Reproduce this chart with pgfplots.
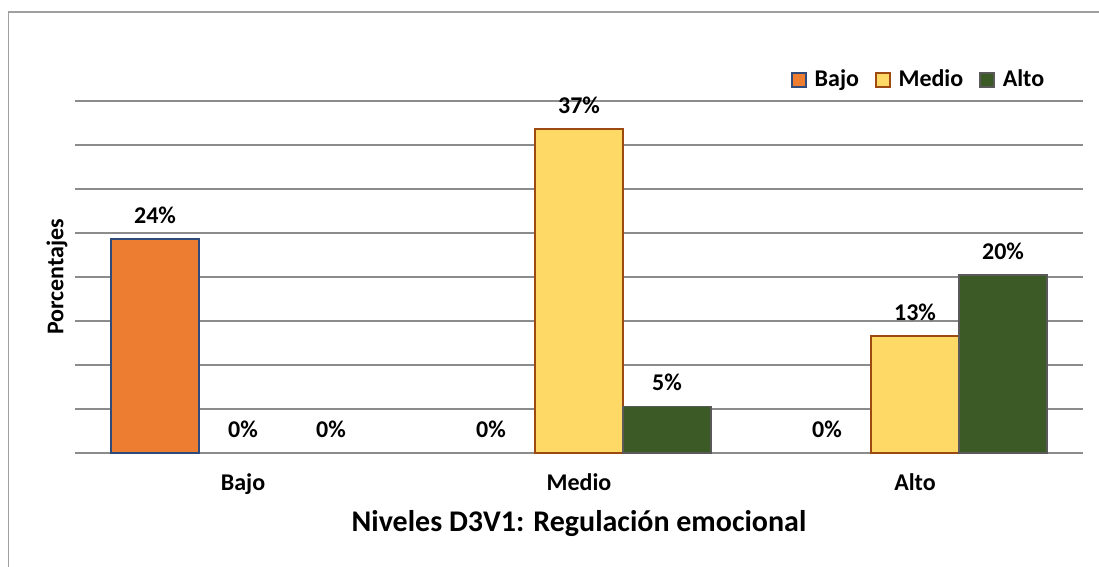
\documentclass[border=0pt]{standalone}
\usepackage{fontspec}
\setmainfont{Carlito}
\usepackage{pgfplots}
\pgfplotsset{compat=1.18}
\definecolor{cBajo}{HTML}{ED7D31}
\definecolor{cBajoE}{HTML}{2F4B7C}
\definecolor{cMedio}{HTML}{FFD966}
\definecolor{cMedioE}{HTML}{9C4A12}
\definecolor{cAlto}{HTML}{3B5A26}
\definecolor{cAltoE}{HTML}{595959}
\definecolor{gridc}{HTML}{8C8C8C}
\definecolor{framec}{HTML}{A0A0A0}
\newcommand{\lbl}{\fontsize{12}{14}\selectfont\bfseries}
\begin{document}
\begin{tikzpicture}[x=1pt,y=1pt]
\path[use as bounding box] (0,0) rectangle (549.5,283.5);
\draw[color=framec, line width=0.9pt] (4.25,0) -- (4.25,277.5) -- (549.5,277.5);
\begin{axis}[
  at={(37.5pt,57pt)}, anchor=south west,
  scale only axis, width=504pt, height=176pt,
  ybar, bar width=44pt,
  ymin=0, ymax=40, xmin=-0.5, xmax=2.5,
  ytick={0,5,...,40}, yticklabels={},
  ymajorgrids, grid style={color=gridc, line width=0.75pt},
  axis line style={draw=none}, major tick length=0pt,
  xtick={0,1,2}, xticklabels={Bajo,Medio,Alto},
  x tick label style={font=\lbl, yshift=-7pt},
  ylabel={Porcentajes},
  ylabel style={at={(axis description cs:0,0.5)}, anchor=center, yshift=9pt, font=\lbl},
  xlabel={Niveles D3V1: Regulación emocional},
  xlabel style={at={(axis description cs:0.5,0)}, anchor=center, yshift=-35.5pt, font=\fontsize{15}{17}\selectfont\bfseries},
  nodes near coords={\pgfmathprintnumber[fixed,precision=0,assume math mode=true]{\pgfplotspointmeta}\%},
  every node near coord/.append style={font=\lbl, yshift=4pt},
  clip=false,
  legend style={at={(axis description cs:0.838,1.06)}, anchor=center, draw=none, fill=none,
    legend columns=3, font=\lbl,
    /tikz/every odd column/.append style={column sep=2pt},
    /tikz/every even column/.append style={column sep=6pt}},
  legend image code/.code={\draw[#1, line width=0.75pt] (0pt,-3.5pt) rectangle (7pt,3.5pt);},
]
\addplot[fill=cBajo, draw=cBajoE, line width=0.75pt, bar shift=-44pt] coordinates {(0,24.3)};
\addplot[fill=cMedio, draw=cMedioE, line width=0.75pt, bar shift=0pt] coordinates {(1,36.8) (2,13.3)};
\addplot[fill=cAlto, draw=cAltoE, line width=0.75pt, bar shift=44pt] coordinates {(1,5.3) (2,20.2)};
\legend{Bajo,Medio,Alto}
\addplot[draw=none, fill=none, bar shift=-44pt, forget plot] coordinates {(1,0) (2,0)};
\addplot[draw=none, fill=none, bar shift=0pt, forget plot] coordinates {(0,0)};
\addplot[draw=none, fill=none, bar shift=44pt, forget plot] coordinates {(0,0)};
\end{axis}
\end{tikzpicture}
\end{document}
